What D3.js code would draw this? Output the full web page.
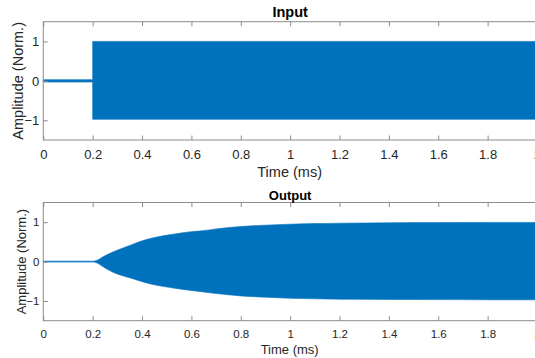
<!DOCTYPE html>
<html>
<head>
<meta charset="utf-8">
<script src="https://cdn.jsdelivr.net/npm/d3@7"></script>
<style>
  body { margin: 0; background: #fff; }
  svg { display: block; font-family: "Liberation Sans", Arial, sans-serif; }
  .tick text { fill: #262626; }
</style>
</head>
<body>
<div id="chart"></div>
<script>
// envelope of the input tone burst (starts at 0.2 ms)
const inputTime  = [0, 0.2, 0.2, 2.0];
const inputUpper = [0.03, 0.03, 1.0, 1.0];
const inputLower = [-0.03, -0.03, -0.975, -0.975];

// envelope of the output response
const outputTime  = [0, 0.204, 0.25, 0.286, 0.35, 0.401, 0.45, 0.531, 0.6, 0.633, 0.7, 0.8, 0.9, 1.0, 1.1, 1.21, 1.4, 1.6, 1.8, 2.0];
const outputUpper = [0.012, 0.012, 0.15, 0.254, 0.41, 0.53, 0.61, 0.70, 0.76, 0.775, 0.83, 0.89, 0.925, 0.95, 0.965, 0.975, 0.985, 0.99, 0.995, 0.995];
const outputLower = [-0.012, -0.012, -0.16, -0.28, -0.41, -0.51, -0.59, -0.675, -0.735, -0.76, -0.81, -0.87, -0.905, -0.93, -0.945, -0.955, -0.96, -0.965, -0.97, -0.97];

const xTicks = [0, 0.2, 0.4, 0.6, 0.8, 1, 1.2, 1.4, 1.6, 1.8, 2];
const yTicks = [-1, 0, 1];

const W = 535, H = 358;
const blue = '#0072BD';
const axisGray = '#8c8c8c';

const svg = d3.select('#chart')
  .append('svg')
  .attr('width', W)
  .attr('height', H);

const panels = [
  { title: 'Input', t: inputTime, up: inputUpper, lo: inputLower, curve: d3.curveLinear,
    top: 21.7, bottom: 140, tickFont: 13, labelFont: 14.5,
    titleY: 17, xLabelY: 177, yLabelX: 22.5, tickPad: 9.5 },
  { title: 'Output', t: outputTime, up: outputUpper, lo: outputLower, curve: d3.curveMonotoneX,
    top: 202.5, bottom: 320.7, tickFont: 11.5, labelFont: 13,
    titleY: 199.5, xLabelY: 353.5, yLabelX: 25.5, tickPad: 9.3 }
];

const left = 43.3, right = 537;

panels.forEach(p => {
  const x = d3.scaleLinear().domain([0, 2]).range([left, right]);
  const y = d3.scaleLinear().domain([-1.5, 1.5]).range([p.bottom, p.top]);

  const g = svg.append('g');

  const rows = p.t.map((t, i) => ({ t: t, up: p.up[i], lo: p.lo[i] }));

  g.append('path')
    .datum(rows)
    .attr('fill', blue)
    .attr('stroke', blue)
    .attr('stroke-width', 0.6)
    .attr('d', d3.area()
      .curve(p.curve)
      .x(d => x(d.t))
      .y0(d => y(d.lo))
      .y1(d => y(d.up)));

  // box
  g.append('rect')
    .attr('x', left)
    .attr('y', p.top)
    .attr('width', right - left)
    .attr('height', p.bottom - p.top)
    .attr('fill', 'none')
    .attr('stroke', axisGray)
    .attr('stroke-width', 1);

  const xb = g.append('g')
    .attr('transform', 'translate(0,' + p.bottom + ')')
    .call(d3.axisBottom(x).tickValues(xTicks).tickFormat(d3.format('')).tickSize(-4.5).tickPadding(p.tickPad));
  const xt = g.append('g')
    .attr('transform', 'translate(0,' + p.top + ')')
    .call(d3.axisTop(x).tickValues(xTicks).tickFormat('').tickSize(-4.5));
  const yl = g.append('g')
    .attr('transform', 'translate(' + left + ',0)')
    .call(d3.axisLeft(y).tickValues(yTicks).tickFormat(d3.format('')).tickSize(-4.5).tickPadding(4));

  [xb, xt, yl].forEach(a => {
    a.select('.domain').remove();
    a.selectAll('.tick line').attr('stroke', axisGray);
    a.selectAll('.tick text')
      .attr('font-size', p.tickFont)
      .attr('font-family', '"Liberation Sans", Arial, sans-serif');
  });

  g.append('text')
    .attr('x', (left + right) / 2)
    .attr('y', p.titleY)
    .attr('text-anchor', 'middle')
    .attr('font-weight', 'bold')
    .attr('font-size', p.labelFont)
    .attr('fill', '#000')
    .text(p.title);

  g.append('text')
    .attr('x', (left + right) / 2 - 0.5)
    .attr('y', p.xLabelY)
    .attr('text-anchor', 'middle')
    .attr('font-size', p.labelFont)
    .attr('fill', '#262626')
    .text('Time (ms)');

  g.append('text')
    .attr('transform', 'translate(' + p.yLabelX + ',' + ((p.top + p.bottom) / 2) + ') rotate(-90)')
    .attr('text-anchor', 'middle')
    .attr('font-size', p.labelFont)
    .attr('fill', '#262626')
    .text('Amplitude (Norm.)');
});
</script>
</body>
</html>
